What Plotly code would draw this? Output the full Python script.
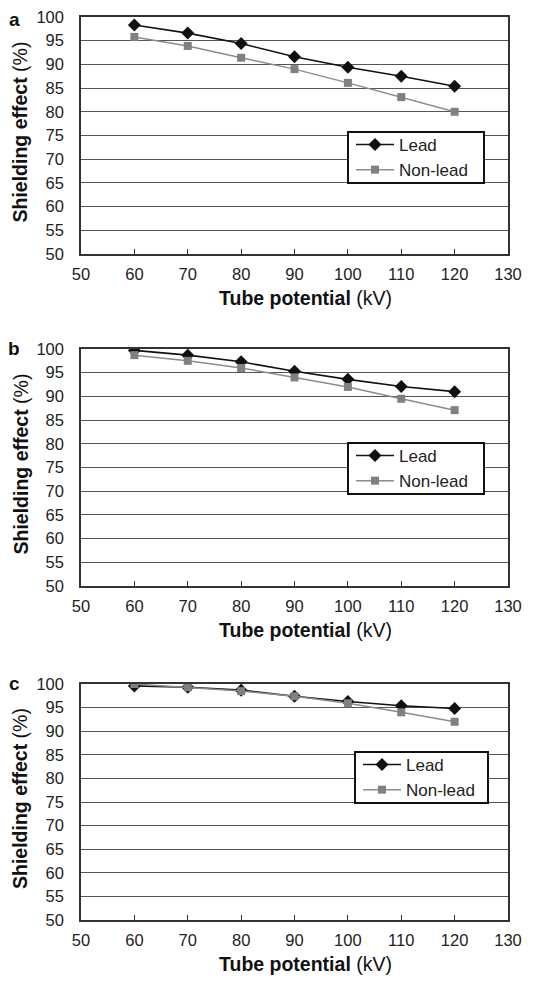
import plotly.graph_objects as go

tube_kv = [60, 70, 80, 90, 100, 110, 120]

lead_a = [98.3, 96.6, 94.4, 91.6, 89.4, 87.5, 85.4]
nonlead_a = [95.8, 93.9, 91.4, 89.0, 86.1, 83.1, 80.0]

lead_b = [99.7, 98.7, 97.3, 95.3, 93.6, 92.1, 91.0]
nonlead_b = [98.7, 97.5, 96.0, 94.0, 92.0, 89.5, 87.1]

lead_c = [99.6, 99.3, 98.7, 97.4, 96.3, 95.4, 94.8]
nonlead_c = [100.0, 99.3, 98.5, 97.4, 95.9, 94.0, 92.0]

x_ticks = [50, 60, 70, 80, 90, 100, 110, 120, 130]
y_ticks = [50, 55, 60, 65, 70, 75, 80, 85, 90, 95, 100]
panel_labels = ["a", "b", "c"]
x_title = "<b>Tube potential</b> (kV)"
y_title = "<b>Shielding effect</b> (%)"

# page is rendered with the default 8px body margin
OFF = 8
W, H = 534 - OFF, 983 - OFF
FONT = "Liberation Sans, Arial, sans-serif"

# (plot top px, plot bottom px), legend box (left, top, right, bottom) px, page coords
panels = [
    (lead_a, nonlead_a, (17, 254), (348, 132, 484, 183)),
    (lead_b, nonlead_b, (349, 586), (348, 443, 484, 494)),
    (lead_c, nonlead_c, (684, 920), (355, 752, 488, 803)),
]

def px(v):
    return (v - OFF) / W

def py(v):
    return 1 - (v - OFF) / H

fig = go.Figure()
x0, x1 = 81, 508

layout = dict(
    width=W, height=H,
    margin=dict(l=0, r=0, t=0, b=0, autoexpand=False),
    paper_bgcolor="white", plot_bgcolor="white",
    font=dict(family=FONT, color="#222", size=16),
    showlegend=True,
)
annotations = []
shapes = []

for i, (lead, nonlead, (ytop, ybot), (bl, bt, br, bb)) in enumerate(panels):
    n = "" if i == 0 else str(i + 1)
    xa, ya = "x" + n, "y" + n
    leg = "legend" + n
    fig.add_trace(go.Scatter(
        x=tube_kv, y=lead, name="Lead", mode="lines+markers",
        line=dict(color="#111", width=1.6),
        marker=dict(symbol="diamond", size=10, color="#111"),
        xaxis=xa, yaxis=ya, legend=leg))
    fig.add_trace(go.Scatter(
        x=tube_kv, y=nonlead, name="Non-lead", mode="lines+markers",
        line=dict(color="#8c8c8c", width=1.5),
        marker=dict(symbol="square", size=8, color="#808080"),
        xaxis=xa, yaxis=ya, legend=leg))

    layout["xaxis" + n] = dict(
        domain=[px(x0), px(x1)], anchor=ya, range=[50, 130], tickvals=x_ticks,
        showgrid=False, zeroline=False, automargin=False,
        showline=True, mirror=True, linecolor="#333", linewidth=1.5,
        ticks="inside", ticklen=5, tickcolor="#333", tickwidth=1,
        ticklabelstandoff=4, ticklabeloverflow="allow",
        tickfont=dict(size=16.5, color="#222"),
    )
    layout["yaxis" + n] = dict(
        domain=[py(ybot), py(ytop)], anchor=xa, range=[50, 100], tickvals=y_ticks,
        showgrid=True, gridcolor="#555", gridwidth=1, zeroline=False,
        automargin=False,
        showline=True, mirror=True, linecolor="#333", linewidth=1.5,
        ticks="", ticklabelstandoff=12, ticklabeloverflow="allow",
        tickfont=dict(size=16.5, color="#222"),
    )
    layout[leg] = dict(
        x=px(bl + 3), y=py(bt - 5), xanchor="left", yanchor="top",
        bgcolor="rgba(0,0,0,0)", borderwidth=0,
        font=dict(size=17, color="#222", family=FONT),
        itemwidth=38, tracegroupgap=0,
    )
    shapes.append(dict(
        type="rect", xref="paper", yref="paper",
        x0=px(bl), x1=px(br), y0=py(bb), y1=py(bt),
        fillcolor="white", line=dict(color="#111", width=2), layer="above"))

    if i == 0:
        letter_pos = dict(y=1.0, yanchor="top")
    else:
        letter_pos = dict(y=py(ytop - 1), yanchor="middle")
    annotations.append(dict(
        text="<b>%s</b>" % panel_labels[i], xref="paper", yref="paper",
        x=px(14), xanchor="center", borderpad=0,
        showarrow=False, font=dict(size=19, color="#111", family=FONT),
        **letter_pos))
    annotations.append(dict(
        text=x_title, xref="paper", yref="paper",
        x=px(305), y=py(ybot + 44), xanchor="center", yanchor="middle",
        showarrow=False, font=dict(size=19.5, color="#111", family=FONT)))
    annotations.append(dict(
        text=y_title, xref="paper", yref="paper", textangle=-90,
        x=px(20), y=py((ytop + ybot) / 2 - 3), xanchor="center", yanchor="middle",
        showarrow=False, font=dict(size=19.5, color="#111", family=FONT)))

layout["annotations"] = annotations
layout["shapes"] = shapes
fig.update_layout(**layout)
fig.write_html("out.html")
